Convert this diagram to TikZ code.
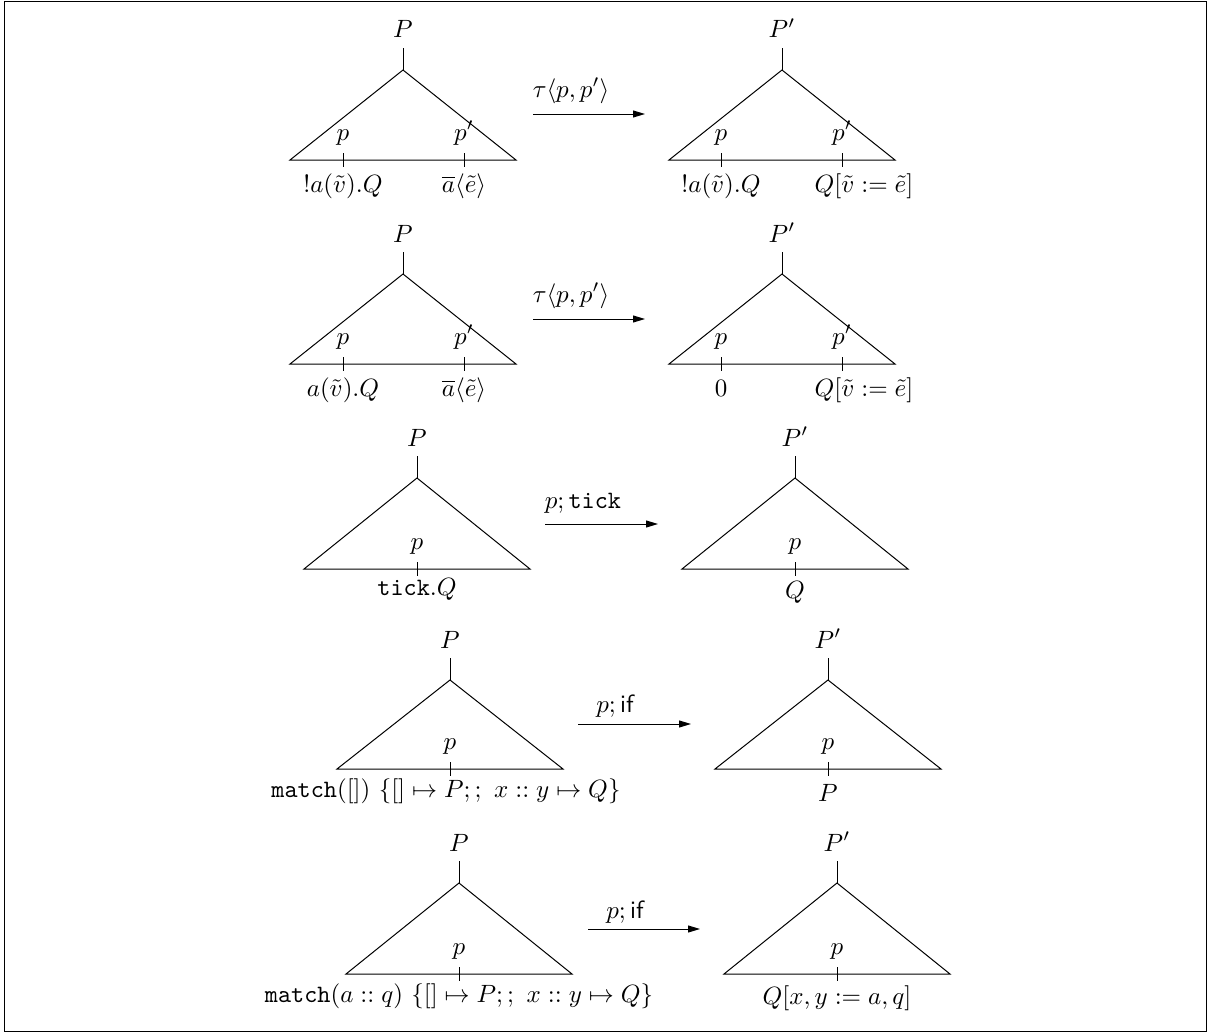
\documentclass[tikz,border=0pt]{standalone}
\usepackage{amsmath,amssymb}
\usetikzlibrary{arrows.meta}
\tikzset{
  txt/.style={inner sep=0pt, anchor=base},
  trans/.style={-{Triangle[length=4.8pt,width=2.8pt]}},
  frame/.style={line width=0.6pt},
}
\newcommand\mktree[4]{%
  \coordinate (#1-top) at (#2,{#3-22});
  \coordinate (#1-a) at (#2,#3);
  \coordinate (#1-l) at ({#2-113},#4);
  \coordinate (#1-r) at ({#2+113},#4);
  \draw (#1-top) -- (#1-a);
  \draw (#1-l) -- (#1-a) -- (#1-r) -- cycle;
}
\newcommand\mktick[3]{%
  \coordinate (#1) at (#2,#3);
  \draw (#1) ++(0,-7) -- ++(0,14);
}
\begin{document}
\begin{tikzpicture}[x=0.4pt,y=-0.4pt]
\useasboundingbox (0,0) rectangle (1209,1033);
\draw[frame] (4.5,1.5) rectangle (1206.5,1031.5);

% ---------- Row 1 ----------
\mktree{t1l}{403}{70}{160}
\node[txt] (t1lP) at (403,38) {$P$};
\mktick{t1l-p}{343}{160}
\mktick{t1l-q}{464}{160}
\node[txt] (t1lp) at (343,140) {$p$};
\node[txt] (t1lq) at (464,140) {$p'$};
\node[txt] (t1lb1) at (343,192) {$!a(\tilde v).Q$};
\node[txt] (t1lb2) at (464,192) {$\overline{a}\langle\tilde e\rangle$};

\coordinate (a1s) at (533,114);
\coordinate (a1e) at (645,114);
\draw[trans] (a1s) -- (a1e);
\node[txt] (a1l) at (571,97) {$\tau\langle p,p'\rangle$};

\mktree{t1r}{782}{70}{160}
\node[txt] (t1rP) at (782,38) {$P'$};
\mktick{t1r-p}{721}{160}
\mktick{t1r-q}{842}{160}
\node[txt] (t1rp) at (721,140) {$p$};
\node[txt] (t1rq) at (842,140) {$p'$};
\node[txt] (t1rb1) at (721,192) {$!a(\tilde v).Q$};
\node[txt] (t1rb2) at (864,192) {$Q[\tilde v := \tilde e]$};

% ---------- Row 2 ----------
\mktree{t2l}{403}{274}{364}
\node[txt] (t2lP) at (403,242) {$P$};
\mktick{t2l-p}{343}{364}
\mktick{t2l-q}{464}{364}
\node[txt] (t2lp) at (343,344) {$p$};
\node[txt] (t2lq) at (464,344) {$p'$};
\node[txt] (t2lb1) at (343,396) {$a(\tilde v).Q$};
\node[txt] (t2lb2) at (464,396) {$\overline{a}\langle\tilde e\rangle$};

\coordinate (a2s) at (533,319);
\coordinate (a2e) at (645,319);
\draw[trans] (a2s) -- (a2e);
\node[txt] (a2l) at (571,302) {$\tau\langle p,p'\rangle$};

\mktree{t2r}{782}{274}{364}
\node[txt] (t2rP) at (782,242) {$P'$};
\mktick{t2r-p}{721}{364}
\mktick{t2r-q}{842}{364}
\node[txt] (t2rp) at (721,344) {$p$};
\node[txt] (t2rq) at (842,344) {$p'$};
\node[txt] (t2rb1) at (721,396) {$0$};
\node[txt] (t2rb2) at (864,396) {$Q[\tilde v := \tilde e]$};

% ---------- Row 3 ----------
\mktree{t3l}{417}{478}{569}
\node[txt] (t3lP) at (417,446) {$P$};
\mktick{t3l-p}{417}{569}
\node[txt] (t3lp) at (417,549) {$p$};
\node[txt] (t3lb) at (417,595) {$\texttt{tick}.Q$};

\coordinate (a3s) at (545,524);
\coordinate (a3e) at (658,524);
\draw[trans] (a3s) -- (a3e);
\node[txt] (a3l) at (583,508) {$p;\texttt{tick}$};

\mktree{t3r}{795}{478}{569}
\node[txt] (t3rP) at (795,446) {$P'$};
\mktick{t3r-p}{795}{569}
\node[txt] (t3rp) at (795,549) {$p$};
\node[txt] (t3rb) at (795,598) {$Q$};

% ---------- Row 4 ----------
\mktree{t4l}{450}{680}{769}
\node[txt] (t4lP) at (450,648) {$P$};
\mktick{t4l-p}{450}{769}
\node[txt] (t4lp) at (450,749) {$p$};
\node[txt] (t4lb) at (446,797) {$\texttt{match}([])\ \{[] \mapsto P;;\ x :: y \mapsto Q\}$};

\coordinate (a4s) at (578,724);
\coordinate (a4e) at (691,724);
\draw[trans] (a4s) -- (a4e);
\node[txt] (a4l) at (615,712) {$p;\textsf{if}$};

\mktree{t4r}{828}{680}{769}
\node[txt] (t4rP) at (828,648) {$P'$};
\mktick{t4r-p}{828}{769}
\node[txt] (t4rp) at (828,749) {$p$};
\node[txt] (t4rb) at (828,801) {$P$};

% ---------- Row 5 ----------
\mktree{t5l}{459}{883}{974}
\node[txt] (t5lP) at (459,851) {$P$};
\mktick{t5l-p}{459}{974}
\node[txt] (t5lp) at (459,954) {$p$};
\node[txt] (t5lb) at (459,1002) {$\texttt{match}(a :: q)\ \{[] \mapsto P;;\ x :: y \mapsto Q\}$};

\coordinate (a5s) at (588,929);
\coordinate (a5e) at (700,929);
\draw[trans] (a5s) -- (a5e);
\node[txt] (a5l) at (625,918) {$p;\textsf{if}$};

\mktree{t5r}{837}{883}{974}
\node[txt] (t5rP) at (837,851) {$P'$};
\mktick{t5r-p}{837}{974}
\node[txt] (t5rp) at (837,954) {$p$};
\node[txt] (t5rb) at (837,1004) {$Q[x,y := a,q]$};
\end{tikzpicture}
\end{document}
